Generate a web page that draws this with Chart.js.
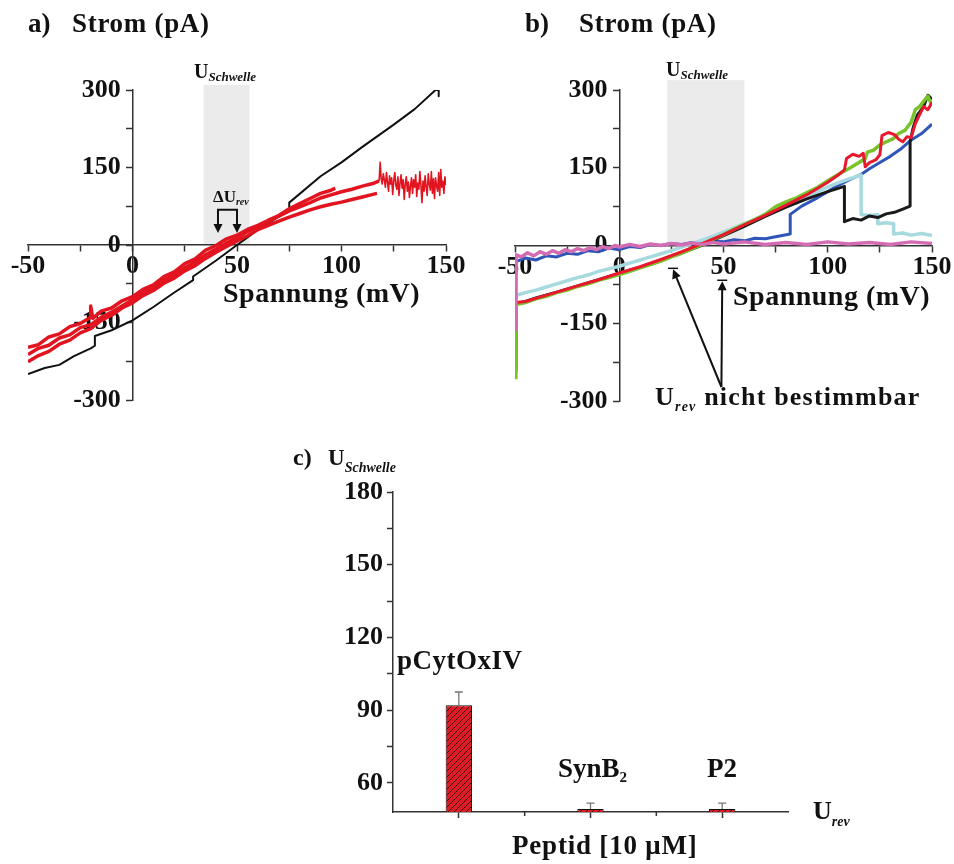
<!DOCTYPE html>
<html lang="de">
<head>
<meta charset="utf-8">
<title>Strom-Spannung und Schwellenspannung</title>
<script src="https://cdn.jsdelivr.net/npm/chart.js@4.4.1/dist/chart.umd.min.js"></script>
<style>
  html, body { margin: 0; padding: 0; background: #fff; }
  body { position: relative; width: 954px; height: 864px; overflow: hidden;
         font-family: "Liberation Serif", "Times New Roman", serif; font-weight: bold; color: #111; }
  canvas { position: absolute; left: 0; top: 0; }
  .note { position: absolute; white-space: nowrap; line-height: 1; }
  .sub { position: relative; }
</style>
</head>
<body>
<canvas id="chartA" width="954" height="864"></canvas>
<canvas id="chartB" width="954" height="864"></canvas>
<canvas id="chartC" width="954" height="864"></canvas>
<script>
// --- A. DATA: panel a (Spannung in mV, Strom in pA) ---
const aBlackV = [-50, -42, -35, -28, -20, -18, -18, -10, 0, 10, 20, 29, 29, 40, 50, 60, 70, 75, 75, 90, 100, 110, 125, 135, 145, 146.5, 146.5];
const aBlackI = [-250, -238, -232, -215, -200, -195, -176, -165, -146, -120, -92, -68, -61, -30, 0, 29, 55, 68, 82, 133, 160, 190, 233, 263, 300, 300, 288];

const aRed1V = [-50, -45, -40, -35, -30, -25, -20, -20, -19, -15, -10, -5, 0, 5, 10, 15, 20, 25, 30, 35, 40, 45, 50, 55, 60, 65, 70, 75, 80, 85, 90, 95, 97];
const aRed1I = [-198, -193, -178, -172, -158, -152, -140, -118, -142, -128, -122, -108, -100, -86, -77, -61, -52, -36, -27, -10, -1, 12, 19, 30, 38, 48, 57, 70, 80, 90, 100, 106, 110];

const aRed2V = [-50, -45, -40, -35, -30, -25, -20, -15, -10, -5, 0, 5, 10, 15, 20, 25, 30, 35, 40, 45, 50, 55, 60, 65, 70, 75, 80, 85, 90, 95, 100, 105, 110, 115, 117];
const aRed2I = [-226, -214, -206, -192, -184, -170, -162, -146, -136, -122, -112, -98, -88, -74, -64, -50, -40, -26, -14, -3, 8, 18, 30, 38, 46, 54, 61, 68, 74, 79, 83, 88, 93, 98, 100];

const aRed3V = [-50, -45, -40, -35, -30, -25, -20, -15, -10, -5, 0, 5, 10, 15, 20, 25, 30, 35, 40, 45, 50, 55, 60, 65, 70, 75, 80, 85, 90, 95, 100, 105, 110, 115, 118];
const aRed3I = [-212, -200, -194, -180, -174, -160, -154, -140, -130, -118, -106, -93, -82, -68, -58, -44, -33, -19, -8, 4, 14, 26, 36, 45, 56, 66, 74, 82, 91, 97, 103, 108, 114, 119, 124];

// noisy end of the long red sweep
const aRedTailV = [118, 118.5, 119, 119.5, 120, 120.5, 121, 121.5, 122, 122.5, 123, 123.5, 124, 124.5, 125, 125.5, 126, 126.5, 127, 127.5, 128, 128.5, 129, 129.5, 130, 130.5, 131, 131.5, 132, 132.5, 133, 133.5, 134, 134.5, 135, 135.5, 136, 136.5, 137, 137.5, 138, 138.5, 139, 139.5, 140, 140.5, 141, 141.5, 142, 142.5, 143, 143.5, 144, 144.5, 145, 145.5, 146, 146.5, 147, 147.5, 148, 148.5, 149, 149.5, 150];
const aRedTailI = [124, 160, 128, 118, 138, 126, 112, 140, 122, 104, 134, 118, 130, 98, 124, 140, 116, 108, 132, 96, 120, 136, 110, 126, 88, 118, 132, 104, 122, 92, 114, 130, 100, 126, 112, 136, 94, 120, 108, 142, 116, 82, 124, 104, 134, 112, 96, 138, 118, 106, 142, 100, 128, 90, 130, 114, 104, 140, 96, 146, 112, 124, 100, 132, 116];

// --- B. DATA: panel b ---
const bGreenV = [-49.6, -49.4, -45, -40, -35, -30, -25, -20, -15, -10, -5, 0, 5, 10, 15, 20, 25, 30, 35, 40, 45, 50, 55, 60, 65, 70, 75, 80, 85, 90, 95, 100, 105, 110, 115, 118, 119, 122, 125, 128, 131, 134, 137, 140, 142, 144, 146, 148, 150];
const bGreenI = [-258, -114, -110, -103, -98, -91, -86, -79, -74, -67, -62, -56, -50, -43, -37, -30, -22, -15, -6, 2, 12, 21, 31, 41, 50, 60, 75, 84, 92, 102, 112, 125, 137, 148, 160, 168, 180, 184, 194, 200, 205, 216, 222, 238, 262, 268, 278, 288, 270];

const bRedV = [-49.5, -45, -40, -30, -20, -10, 0, 10, 20, 30, 40, 50, 60, 70, 80, 90, 100, 105, 108, 109, 112, 115, 117, 118, 120, 123, 125, 126, 129, 132, 134, 136, 138, 140, 142, 144, 146, 148, 150];
const bRedI = [-110, -108, -102, -90, -78, -66, -53, -41, -27, -12, 4, 21, 40, 58, 78, 98, 122, 136, 146, 168, 176, 172, 178, 152, 160, 165, 175, 212, 218, 214, 205, 200, 210, 208, 235, 252, 268, 262, 276];

const bBlackV = [-49.6, -49.4, -45, -40, -30, -20, -10, 0, 10, 20, 30, 40, 50, 60, 70, 80, 90, 100, 108, 108, 112, 116, 120, 124, 128, 132, 136, 139.5, 139.5, 141, 143, 146, 148, 150];
const bBlackI = [-245, -112, -108, -101, -90, -78, -66, -54, -42, -28, -14, 1, 19, 37, 56, 74, 90, 104, 114, 46, 52, 49, 57, 54, 61, 64, 70, 76, 200, 228, 252, 268, 290, 282];

const bCyanV = [-49.6, -49.4, -45, -40, -35, -30, -25, -20, -15, -10, -5, 0, 5, 10, 15, 20, 25, 30, 35, 40, 45, 50, 55, 60, 65, 70, 75, 80, 85, 90, 95, 100, 105, 110, 116, 116, 120, 124, 124, 128, 131.6, 131.6, 136, 140, 145, 150];
const bCyanI = [-238, -96, -91, -86, -80, -74, -68, -62, -57, -50, -45, -40, -34, -28, -22, -16, -10, -3, 4, 11, 18, 26, 34, 42, 50, 58, 67, 76, 85, 94, 104, 113, 121, 128, 136, 60, 58, 60, 42, 44, 42, 22, 24, 20, 23, 19];

const bBlueV = [-49.5, -45, -40, -35, -30, -25, -20, -15, -10, -5, 0, 5, 10, 15, 20, 25, 30, 35, 40, 45, 50, 55, 60, 65, 70, 75, 82, 82, 87.5, 95, 100, 105, 110, 116, 120, 125, 130, 135, 139.5, 145, 150];
const bBlueI = [-31, -24, -28, -20, -22, -15, -17, -10, -12, -5, -8, -2, -4, 2, 0, 4, 2, 6, 4, 8, 7, 11, 9, 14, 13, 17, 22, 60, 76, 92, 104, 116, 126, 137, 148, 160, 172, 186, 202, 216, 234];

const bPinkV = [-49.6, -49.4, -47, -44, -41, -38, -35, -32, -29, -26, -23, -20, -17, -14, -11, -8, -5, -2, 0, 5, 10, 15, 20, 25, 30, 35, 40, 45, 50, 60, 70, 80, 90, 100, 110, 120, 130, 140, 150];
const bPinkI = [-165, -18, -22, -14, -20, -12, -17, -10, -15, -8, -12, -6, -10, -4, -8, -2, -6, 0, -3, 2, -2, 3, 0, 4, 1, 5, 2, 6, 3, 7, 2, 6, 2, 7, 3, 6, 2, 7, 4];

// shared axis ticks of the I/V panels
const ivTicksX = [-50, -25, 0, 25, 50, 75, 100, 125, 150];
const ivLabelsX = [-50, 0, 50, 100, 150];
const ivTicksY = [-300, -225, -150, -75, 0, 75, 150, 225, 300];
const ivLabelsY = [-300, -150, 0, 150, 300];

// --- C. DATA: panel c ---
const cCategories = ['pCytOxIV', 'SynB2', 'P2'];
const cValues = [92, 49.2, 49.2];
const cErrors = [5.5, 2.5, 2.5];
const cYMin = 48;
const cYMax = 180;
const cTicksY = [60, 75, 90, 105, 120, 135, 150, 165, 180];
const cLabelsY = [60, 90, 120, 150, 180];

// --- D. HELPERS ---
const INK = '#111';
const AXIS = '#333';
Chart.defaults.font.family = '"Liberation Serif", "Times New Roman", serif';

const pts = (v, i) => v.map((x, k) => ({ x, y: i[k] }));

const trace = (v, i, color, width) => ({
    data: pts(v, i),
    showLine: true,
    borderColor: color,
    borderWidth: width,
    borderJoinStyle: 'round',
    pointRadius: 0,
    tension: 0
});

function arrowHead(ctx, x1, y1, x2, y2) {
    const a = Math.atan2(y2 - y1, x2 - x1);
    const len = 9, half = 4.5;
    ctx.beginPath();
    ctx.moveTo(x2, y2);
    ctx.lineTo(x2 - len * Math.cos(a) + half * Math.sin(a), y2 - len * Math.sin(a) - half * Math.cos(a));
    ctx.lineTo(x2 - len * Math.cos(a) - half * Math.sin(a), y2 - len * Math.sin(a) + half * Math.cos(a));
    ctx.closePath();
    ctx.fill();
}

// grey threshold band + annotation arrows, all in data units
const ivDecor = {
    id: 'ivDecor',
    beforeDraw(chart, args, opts) {
        const { ctx, scales: { x, y } } = chart;
        if (!opts.band) return;
        const [v0, v1, top] = opts.band;
        ctx.save();
        ctx.fillStyle = '#ebebeb';
        const px0 = x.getPixelForValue(v0), px1 = x.getPixelForValue(v1);
        const py0 = y.getPixelForValue(top), py1 = y.getPixelForValue(0);
        ctx.fillRect(px0, py0, px1 - px0, py1 - py0);
        ctx.restore();
    },
    afterDatasetsDraw(chart, args, opts) {
        const { ctx, scales: { x, y } } = chart;
        ctx.save();
        ctx.strokeStyle = INK;
        ctx.fillStyle = INK;
        ctx.lineWidth = 2;
        (opts.arrows || []).forEach(a => {
            const p = a.path.map(([v, i]) => [x.getPixelForValue(v), y.getPixelForValue(i)]);
            const n = p.length;
            const shorten = (from, to) => {
                const d = Math.hypot(to[0] - from[0], to[1] - from[1]);
                return [to[0] - (to[0] - from[0]) * 6 / d, to[1] - (to[1] - from[1]) * 6 / d];
            };
            const pp = p.slice();
            if (a.start) pp[0] = shorten(p[1], p[0]);
            pp[n - 1] = shorten(p[n - 2], p[n - 1]);
            ctx.beginPath();
            pp.forEach(([px, py], k) => k ? ctx.lineTo(px, py) : ctx.moveTo(px, py));
            ctx.stroke();
            if (a.start) arrowHead(ctx, p[1][0], p[1][1], p[0][0], p[0][1]);
            arrowHead(ctx, p[n - 2][0], p[n - 2][1], p[n - 1][0], p[n - 1][1]);
            if (a.bar) {
                const [tx, ty] = p[n - 1];
                ctx.lineWidth = 1.5;
                ctx.beginPath();
                ctx.moveTo(tx - 5, ty - 1);
                ctx.lineTo(tx + 5, ty - 1);
                ctx.stroke();
                ctx.lineWidth = 2;
            }
        });
        ctx.restore();
    }
};

const tickFont = { size: 26, weight: 'bold' };

function ivChart(id, datasets, padding, decor) {
    return new Chart(document.getElementById(id), {
        type: 'scatter',
        data: { datasets },
        options: {
            responsive: false,
            animation: false,
            events: [],
            layout: { padding },
            plugins: { legend: { display: false }, tooltip: { enabled: false }, ivDecor: decor },
            scales: {
                x: {
                    type: 'linear', min: -50, max: 150,
                    position: { y: 0 },
                    afterBuildTicks: s => { s.ticks = ivTicksX.map(v => ({ value: v })); },
                    ticks: { autoSkip: false, maxRotation: 0, padding: 0, color: INK, font: tickFont,
                             callback: v => ivLabelsX.includes(v) ? String(v) : '' },
                    grid: { drawOnChartArea: false, tickLength: 6, tickColor: AXIS, tickWidth: 1.5 },
                    border: { color: AXIS, width: 1.5 }
                },
                y: {
                    type: 'linear', min: -300, max: 300,
                    position: { x: 0 },
                    afterBuildTicks: s => { s.ticks = ivTicksY.map(v => ({ value: v })); },
                    ticks: { autoSkip: false, color: INK, font: tickFont,
                             callback: v => ivLabelsY.includes(v) ? v + ' \u2009' : '' },
                    grid: { drawOnChartArea: false, tickLength: 6, tickColor: AXIS, tickWidth: 1.5 },
                    border: { color: AXIS, width: 1.5 }
                }
            }
        },
        plugins: [ivDecor]
    });
}

// --- E. PANEL a ---
const RED_A = '#e2141f';
ivChart('chartA', [
    trace(aRed1V, aRed1I, RED_A, 3.5),
    trace(aRed3V, aRed3I, RED_A, 3.5),
    trace(aRedTailV, aRedTailI, RED_A, 1.6),
    trace(aRed2V, aRed2I, RED_A, 3.5),
    trace(aBlackV, aBlackI, INK, 2)
], { left: 28, top: 90, right: 508, bottom: 464 }, {
    band: [34, 56, 310],
    arrows: [{ path: [[40.9, 23], [40.9, 68], [50, 68], [50, 23]], start: true }]
});

// --- F. PANEL b ---
ivChart('chartB', [
    trace(bPinkV, bPinkI, '#d36cb2', 3.5),
    trace(bRedV, bRedI, '#e8192c', 3),
    trace(bGreenV, bGreenI, '#78c22a', 3.5),
    trace(bBlackV, bBlackI, '#1a1a1a', 3),
    trace(bCyanV, bCyanI, '#a6dadf', 3.5),
    trace(bBlueV, bBlueI, '#2f55b8', 3)
], { left: 515, top: 90, right: 22, bottom: 463 }, {
    band: [23, 60, 319],
    arrows: [
        { path: [[49, -273], [25.8, -46]], bar: true },
        { path: [[49, -273], [49.4, -69]], bar: true }
    ]
});

// --- G. PANEL c ---
function hatchPattern() {
    const p = document.createElement('canvas');
    p.width = 6; p.height = 6;
    const g = p.getContext('2d');
    g.fillStyle = '#dd1b24';
    g.fillRect(0, 0, 6, 6);
    g.strokeStyle = '#4a0a0c';
    g.lineWidth = 1;
    g.beginPath();
    g.moveTo(0, 6); g.lineTo(6, 0);
    g.moveTo(-1, 1); g.lineTo(1, -1);
    g.moveTo(5, 7); g.lineTo(7, 5);
    g.stroke();
    return g.createPattern(p, 'repeat');
}

const barDecor = {
    id: 'barDecor',
    afterDatasetsDraw(chart) {
        const { ctx, scales: { x, y } } = chart;
        const meta = chart.getDatasetMeta(0);
        ctx.save();
        // error bars (upper half)
        ctx.strokeStyle = '#777';
        ctx.lineWidth = 1.3;
        meta.data.forEach((bar, k) => {
            const top = y.getPixelForValue(cValues[k] + cErrors[k]);
            ctx.beginPath();
            ctx.moveTo(bar.x, bar.y);
            ctx.lineTo(bar.x, top);
            ctx.moveTo(bar.x - 4, top);
            ctx.lineTo(bar.x + 4, top);
            ctx.stroke();
        });
        // minor ticks between the categories
        ctx.strokeStyle = AXIS;
        ctx.lineWidth = 1.5;
        [0.5, 1.5].forEach(v => {
            const px = x.getPixelForValue(v);
            ctx.beginPath();
            ctx.moveTo(px, y.bottom);
            ctx.lineTo(px, y.bottom + 4);
            ctx.stroke();
        });
        ctx.restore();
    }
};

new Chart(document.getElementById('chartC'), {
    type: 'bar',
    data: {
        labels: cCategories,
        datasets: [{
            data: cValues,
            base: cYMin,
            backgroundColor: hatchPattern(),
            borderColor: INK,
            borderWidth: 1,
            categoryPercentage: 1,
            barPercentage: 0.2
        }]
    },
    options: {
        responsive: false,
        animation: false,
        events: [],
        layout: { padding: { left: 333, top: 492, right: 166, bottom: 32 } },
        plugins: { legend: { display: false }, tooltip: { enabled: false } },
        scales: {
            x: {
                afterFit: s => { s.height = 20; },
                ticks: { display: false },
                grid: { offset: false, drawOnChartArea: false, tickLength: 6, tickColor: AXIS, tickWidth: 1.5 },
                border: { color: AXIS, width: 1.5 }
            },
            y: {
                min: cYMin, max: cYMax,
                afterFit: s => { s.width = 60; },
                afterBuildTicks: s => { s.ticks = cTicksY.map(v => ({ value: v })); },
                ticks: { autoSkip: false, padding: 4, color: INK, font: tickFont,
                         callback: v => cLabelsY.includes(v) ? String(v) : '' },
                grid: { drawOnChartArea: false, tickLength: 6, tickColor: AXIS, tickWidth: 1.5 },
                border: { color: AXIS, width: 1.5 }
            }
        }
    },
    plugins: [barDecor]
});

// --- H. TEXT ANNOTATIONS (left, baseline, size, letter spacing) ---
const sub = (t, size, drop, italic = true) =>
    `<span class="sub" style="font-size:${size}px;top:${drop}px;font-style:${italic ? 'italic' : 'normal'}">${t}</span>`;

const notes = [
    ['a)', 28, 33, 27, 0],
    ['Strom (pA)', 72, 33, 27, 0.7],
    ['b)', 525, 33, 27, 0],
    ['Strom (pA)', 579, 33, 27, 0.7],
    ['U' + sub('Schwelle', 13, 3), 194, 78, 20, 0],
    ['U' + sub('Schwelle', 13, 3), 666, 76, 20, 0],
    ['\u0394U' + sub('rev', 10, 3), 213, 202, 17, 0],
    ['Spannung (mV)', 223, 302, 28, 0.5],
    ['Spannung (mV)', 733, 305, 28, 0.5],
    ['U' + sub('rev', 14, 6) + ' nicht bestimmbar', 655, 406, 26, 1.2],
    ['c)', 293, 465, 24, 0],
    ['U' + sub('Schwelle', 14, 7), 328, 465, 23, 0],
    ['pCytOxIV', 397, 670, 27, 0.5],
    ['SynB' + sub('2', 15, 5, false), 558, 778, 27, 0],
    ['P2', 707, 778, 27, 0],
    ['U' + sub('rev', 14, 7), 813, 820, 26, 0],
    ['Peptid [10 \u03bcM]', 512, 855, 27, 0.8]
];

notes.forEach(([html, left, baseline, size, ls]) => {
    const el = document.createElement('div');
    el.className = 'note';
    el.innerHTML = html;
    el.style.left = left + 'px';
    el.style.top = (baseline - 0.8375 * size) + 'px';
    el.style.fontSize = size + 'px';
    el.style.letterSpacing = ls + 'px';
    document.body.appendChild(el);
});
</script>
</body>
</html>
